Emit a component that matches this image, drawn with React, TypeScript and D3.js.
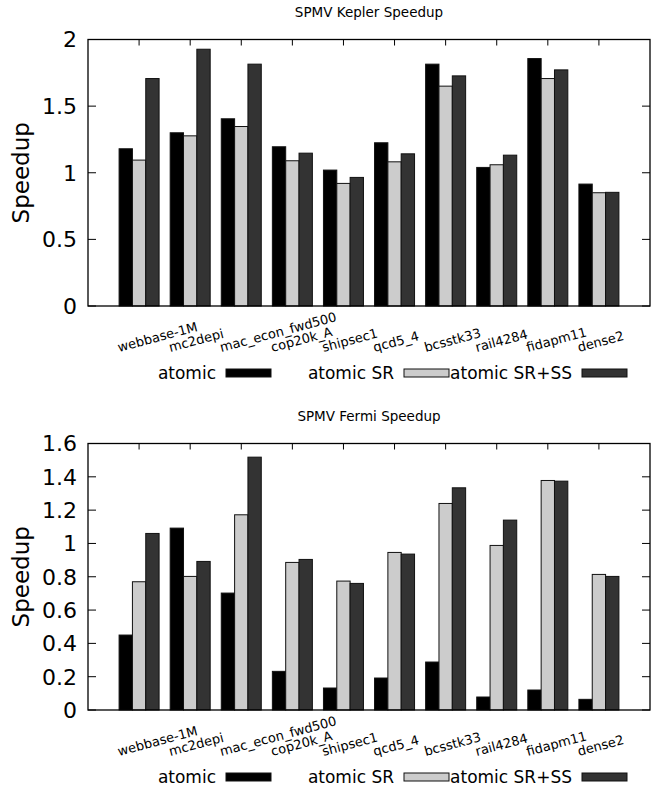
import React, { useEffect, useRef } from "react";
import { select, scaleLinear, scaleBand } from "d3";

const categories = [
  "webbase-1M",
  "mc2depi",
  "mac_econ_fwd500",
  "cop20k_A",
  "shipsec1",
  "qcd5_4",
  "bcsstk33",
  "rail4284",
  "fidapm11",
  "dense2",
];
const seriesNames = ["atomic", "atomic SR", "atomic SR+SS"];
const seriesColors = ["#000000", "#cccccc", "#333333"];

const keplerAtomic = [1.18, 1.3, 1.405, 1.195, 1.02, 1.225, 1.815, 1.04, 1.857, 0.915];
const keplerAtomicSR = [1.095, 1.277, 1.347, 1.09, 0.92, 1.082, 1.65, 1.06, 1.707, 0.85];
const keplerAtomicSRSS = [1.707, 1.927, 1.815, 1.147, 0.965, 1.142, 1.727, 1.132, 1.772, 0.853];
const keplerTicks = [0, 0.5, 1, 1.5, 2];

const fermiAtomic = [0.45, 1.092, 0.702, 0.232, 0.132, 0.192, 0.288, 0.078, 0.12, 0.064];
const fermiAtomicSR = [0.77, 0.802, 1.172, 0.886, 0.774, 0.946, 1.24, 0.988, 1.378, 0.814];
const fermiAtomicSRSS = [1.06, 0.892, 1.518, 0.904, 0.76, 0.936, 1.334, 1.14, 1.374, 0.802];
const fermiTicks = [0, 0.2, 0.4, 0.6, 0.8, 1, 1.2, 1.4, 1.6];

const FONT = "DejaVu Sans, sans-serif";

const panels = [
  {
    title: "SPMV Kepler Speedup",
    series: [keplerAtomic, keplerAtomicSR, keplerAtomicSRSS],
    ticks: keplerTicks,
    yMax: 2,
    offset: 0,
  },
  {
    title: "SPMV Fermi Speedup",
    series: [fermiAtomic, fermiAtomicSR, fermiAtomicSRSS],
    ticks: fermiTicks,
    yMax: 1.6,
    offset: 404,
  },
];

const App = () => {
  const svgRef = useRef(null);
  const width = 656;
  const height = 797;
  const plot = { left: 88, right: 650, top: 39.5, bottom: 306 };

  useEffect(() => {
    const svg = select(svgRef.current);
    svg.selectAll("*").remove();

    const xScale = scaleLinear()
      .domain([-1, categories.length])
      .range([plot.left, plot.right]);
    const inner = scaleBand().domain(seriesNames).range([-20, 20]).padding(0);

    panels.forEach((p) => {
      const g = svg.append("g").attr("transform", `translate(0, ${p.offset})`);
      const yScale = scaleLinear()
        .domain([0, p.yMax])
        .range([plot.bottom, plot.top]);

      // title
      g.append("text")
        .attr("x", (plot.left + plot.right) / 2)
        .attr("y", 16.5)
        .attr("text-anchor", "middle")
        .style("font-family", FONT)
        .style("font-size", "13.5px")
        .text(p.title);

      // y ticks (inward, mirrored)
      p.ticks.forEach((t) => {
        const y = yScale(t);
        g.append("line")
          .attr("x1", plot.left).attr("x2", plot.left + 8)
          .attr("y1", y).attr("y2", y)
          .attr("stroke", "#000");
        g.append("line")
          .attr("x1", plot.right).attr("x2", plot.right - 8)
          .attr("y1", y).attr("y2", y)
          .attr("stroke", "#000");
        g.append("text")
          .attr("x", 77)
          .attr("y", y)
          .attr("dy", "0.36em")
          .attr("text-anchor", "end")
          .style("font-family", FONT)
          .style("font-size", "22px")
          .text(String(t));
      });

      // x ticks (top mirror + bottom, bars cover the bottom ones)
      categories.forEach((c, i) => {
        const x = xScale(i);
        g.append("line")
          .attr("x1", x).attr("x2", x)
          .attr("y1", plot.top).attr("y2", plot.top + 6)
          .attr("stroke", "#000");
        g.append("line")
          .attr("x1", x).attr("x2", x)
          .attr("y1", plot.bottom).attr("y2", plot.bottom - 6)
          .attr("stroke", "#000");
        const lx = x - 20;
        const ly = plot.bottom + 46;
        g.append("text")
          .attr("transform", `translate(${lx}, ${ly}) rotate(-15)`)
          .style("font-family", FONT)
          .style("font-size", "13px")
          .text(c);
      });

      // bars
      p.series.forEach((vals, s) => {
        g.append("g")
          .selectAll("rect")
          .data(vals)
          .join("rect")
          .attr("x", (d, i) => xScale(i) + inner(seriesNames[s]))
          .attr("width", inner.bandwidth())
          .attr("y", (d) => yScale(d))
          .attr("height", (d) => yScale(0) - yScale(d))
          .attr("fill", seriesColors[s])
          .attr("stroke", "#111")
          .attr("stroke-width", 1);
      });

      // frame
      g.append("rect")
        .attr("x", plot.left)
        .attr("y", plot.top)
        .attr("width", plot.right - plot.left)
        .attr("height", plot.bottom - plot.top)
        .attr("fill", "none")
        .attr("stroke", "#000")
        .attr("stroke-width", 1.3);

      // y label
      g.append("text")
        .attr("transform", `translate(29, ${(plot.top + plot.bottom) / 2}) rotate(-90)`)
        .attr("text-anchor", "middle")
        .style("font-family", FONT)
        .style("font-size", "23px")
        .text("Speedup");

      // legend
      const legY = plot.bottom + 67;
      seriesNames.forEach((name, s) => {
        const bx = 226 + 178 * s;
        g.append("text")
          .attr("x", bx - 10)
          .attr("y", legY)
          .attr("dy", "0.36em")
          .attr("text-anchor", "end")
          .style("font-family", FONT)
          .style("font-size", "17px")
          .text(name);
        g.append("rect")
          .attr("x", bx)
          .attr("y", legY - 4)
          .attr("width", 45)
          .attr("height", 8)
          .attr("fill", seriesColors[s])
          .attr("stroke", "#111")
          .attr("stroke-width", 1);
      });
    });
  }, []);

  return (
    <svg
      ref={svgRef}
      width={width}
      height={height}
      style={{ position: "absolute", left: 0, top: 0, background: "#fff" }}
    ></svg>
  );
};

export default App;
